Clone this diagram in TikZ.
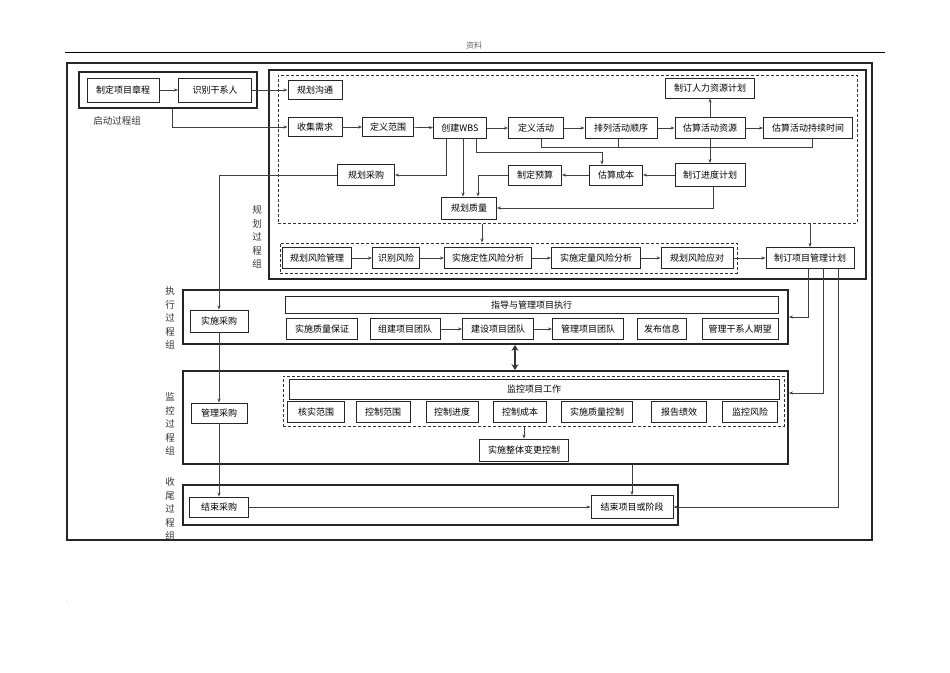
\documentclass[tikz,border=0pt]{standalone}
\usepackage{fontspec}
\setmainfont{Noto Sans CJK SC}
\usetikzlibrary{arrows.meta}
\begin{document}
\begin{tikzpicture}[x=1pt,y=-1pt,
    box/.style={draw=black!85,line width=0.9pt,minimum height=21pt,inner sep=1pt,font=\fontsize{9}{10}\selectfont},
    grp/.style={draw=black!85,line width=1.8pt},
    dgrp/.style={draw=black!80,line width=1pt,dash pattern=on 3pt off 2pt},
    arr/.style={draw=black!75,line width=0.7pt,-{Stealth[length=4pt,width=3pt]}},
    side/.style={align=center,text=black!80,font=\fontsize{9.5}{13.5}\selectfont}]
\useasboundingbox (0,0) rectangle (950,672);
\node[text=black!60,font=\fontsize{8}{9}\selectfont] (hdr) at (474,45) {资料};
\draw[line width=0.6pt] (65,52) -- (885,52);
\node[font=\tiny] (dot) at (67,602) {.};
\node[grp,line width=2.8pt,minimum width=805pt,minimum height=477pt] (frame) at (469.5,301.5) {};
\node[grp,minimum width=178pt,minimum height=36pt] (initg) at (168,90) {};
\node[grp,minimum width=597pt,minimum height=209pt] (plang) at (567.5,174.5) {};
\node[dgrp,minimum width=579pt,minimum height=148pt] (pland) at (567.5,149) {};
\node[dgrp,minimum width=457pt,minimum height=30pt] (riskd) at (508.5,258) {};
\node[grp,minimum width=605pt,minimum height=54pt] (execg) at (485.5,317) {};
\node[grp,minimum width=605pt,minimum height=93pt] (mong) at (485.5,417.5) {};
\node[dgrp,minimum width=501pt,minimum height=50pt] (mond) at (533.5,401) {};
\node[grp,minimum width=495pt,minimum height=40pt] (closeg) at (430.5,505) {};
\node[side] (initlbl) at (117,121) {启动过程组};
\node[side] (planlbl) at (257,237) {规\\划\\过\\程\\组};
\node[side] (execlbl) at (170,318) {执\\行\\过\\程\\组};
\node[side] (monlbl) at (170,424) {监\\控\\过\\程\\组};
\node[side] (closelbl) at (170,509) {收\\尾\\过\\程\\组};
\node[box,minimum width=72pt,minimum height=24pt] (charter) at (123,90) {制定项目章程};
\node[box,minimum width=73pt,minimum height=24pt] (stake) at (215,90) {识别干系人};
\node[box,minimum width=54pt,minimum height=19pt] (comm) at (315,90) {规划沟通};
\node[box,minimum width=54pt,minimum height=19pt] (req) at (315,127) {收集需求};
\node[box,minimum width=51pt,minimum height=19pt] (scope) at (388,127) {定义范围};
\node[box,minimum width=53pt] (wbs) at (460,128) {创建WBS};
\node[box,minimum width=55pt] (act) at (536,128) {定义活动};
\node[box,minimum width=72pt] (seq) at (621,128) {排列活动顺序};
\node[box,minimum width=70pt] (res) at (710,128) {估算活动资源};
\node[box,minimum width=89pt] (dur) at (808,128) {估算活动持续时间};
\node[box,minimum width=89pt,minimum height=20pt] (hr) at (710,88) {制订人力资源计划};
\node[box,minimum width=57pt] (proc) at (366,175) {规划采购};
\node[box,minimum width=53pt,minimum height=20pt] (budget) at (535,175) {制定预算};
\node[box,minimum width=53pt,minimum height=20pt] (cost) at (616,175) {估算成本};
\node[box,minimum width=70pt,minimum height=23pt] (sched) at (710,175) {制订进度计划};
\node[box,minimum width=55pt,minimum height=22pt] (qual) at (469,208) {规划质量};
\node[box,minimum width=69pt] (rmp) at (317,258) {规划风险管理};
\node[box,minimum width=47pt] (rid) at (396,258) {识别风险};
\node[box,minimum width=87pt] (qla) at (488,258) {实施定性风险分析};
\node[box,minimum width=89pt] (qta) at (596,258) {实施定量风险分析};
\node[box,minimum width=72pt] (rre) at (697,258) {规划风险应对};
\node[box,minimum width=88pt] (pmp) at (810,258) {制订项目管理计划};
\node[box,minimum width=493pt,minimum height=17pt] (dmpe) at (531.5,305) {指导与管理项目执行};
\node[box,minimum width=71pt] (qa) at (322,329) {实施质量保证};
\node[box,minimum width=70pt] (acq) at (405,329) {组建项目团队};
\node[box,minimum width=71pt] (dev) at (498,329) {建设项目团队};
\node[box,minimum width=71pt] (mng) at (588,329) {管理项目团队};
\node[box,minimum width=49pt] (info) at (662,329) {发布信息};
\node[box,minimum width=76pt] (expc) at (740,329) {管理干系人期望};
\node[box,minimum width=58pt,minimum height=22pt] (conduct) at (219,321) {实施采购};
\node[box,minimum width=490pt,minimum height=20pt] (mcpw) at (534,389) {监控项目工作};
\node[box,minimum width=57pt] (vs) at (316,412) {核实范围};
\node[box,minimum width=54pt] (cs) at (383,412) {控制范围};
\node[box,minimum width=52pt] (csch) at (452,412) {控制进度};
\node[box,minimum width=53pt] (cc) at (520,412) {控制成本};
\node[box,minimum width=71pt] (qc) at (597,412) {实施质量控制};
\node[box,minimum width=55pt] (perf) at (679,412) {报告绩效};
\node[box,minimum width=55pt] (mrisk) at (750,412) {监控风险};
\node[box,minimum width=89pt,minimum height=22pt] (icc) at (524,450) {实施整体变更控制};
\node[box,minimum width=56pt,minimum height=20pt] (admin) at (219,413) {管理采购};
\node[box,minimum width=59pt,minimum height=20pt] (close) at (219,507) {结束采购};
\node[box,minimum width=82pt,minimum height=23pt] (closep) at (632,507) {结束项目或阶段};
\draw[arr] (charter) -- (stake);
\draw[arr] (stake) -- (comm);
\draw[arr] ([xshift=4pt]initg.south) |- (req.west);
\draw[arr] (req) -- (scope);
\draw[arr] (scope) -- (wbs);
\draw[arr] (wbs) -- (act);
\draw[arr] (act) -- (seq);
\draw[arr] (seq) -- (res);
\draw[arr] (res) -- (dur);
\draw[arr] (res) -- (hr);
\draw[arr] (res) -- (sched);
\draw[arr] ([xshift=-14pt]wbs.south) |- (proc.east);
\draw[arr] ([xshift=3pt]wbs.south) -- ([xshift=3pt]wbs.south |- qual.north);
\draw[arr] ([xshift=16pt]wbs.south) -- ++(0,13) -| ([xshift=-14pt]cost.north);
\draw[draw=black!75,line width=0.7pt] ([xshift=5pt]act.south) -- ++(0,8) -| ([xshift=4pt]dur.south);
\draw[draw=black!75,line width=0.7pt] ([xshift=-3pt]seq.south) -- ++(0,8);
\draw[arr] (sched) -- (cost);
\draw[arr] (cost) -- (budget);
\draw[arr] (budget.west) -| ([xshift=9pt]qual.north);
\draw[arr] ([xshift=3pt]sched.south) |- (qual.east);
\draw[arr] ([xshift=13pt]qual.south |- pland.south) -- ([xshift=13pt]qual.south |- riskd.north);
\draw[arr] (pmp.north |- pland.south) -- (pmp.north);
\draw[arr] (rmp) -- (rid);
\draw[arr] (rid) -- (qla);
\draw[arr] (qla) -- (qta);
\draw[arr] (qta) -- (rre);
\draw[arr] (rre) -- (pmp);
\draw[arr] ([xshift=-2pt]pmp.south) |- (execg.east);
\draw[arr] ([xshift=13pt]pmp.south) |- ([yshift=-4pt]mong.east |- mcpw.east);
\draw[arr] ([xshift=28pt]pmp.south) |- (closep.east);
\draw[arr] (proc.west) -| (conduct.north);
\draw[arr] (conduct) -- (admin);
\draw[arr] (admin) -- (close);
\draw[arr] (close) -- (closep);
\draw[arr] (closep.north |- mong.south) -- (closep.north);
\draw[arr] (icc.north |- mond.south) -- (icc.north);
\draw[arr] (acq) -- (dev);
\draw[arr] (dev) -- (mng);
\draw[draw=black!80,line width=2.2pt,{Stealth[length=6pt,width=7pt]}-{Stealth[length=6pt,width=7pt]}] ([xshift=17pt]dev.south |- execg.south) -- ([xshift=17pt]dev.south |- mong.north);
\end{tikzpicture}
\end{document}
